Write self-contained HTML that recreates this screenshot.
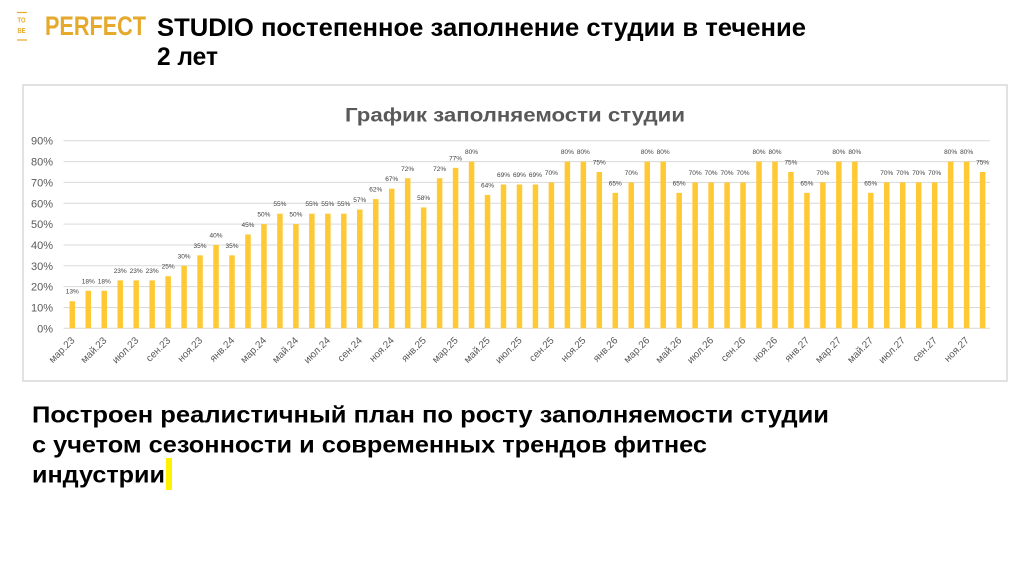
<!DOCTYPE html>
<html><head><meta charset="utf-8"><style>
html,body{margin:0;padding:0;background:#fff;width:1024px;height:574px;overflow:hidden}
svg{display:block}
text{font-family:"Liberation Sans",Arial,sans-serif}
</style></head><body>
<svg width="1024" height="574" viewBox="0 0 1024 574" xmlns="http://www.w3.org/2000/svg">
<rect x="0" y="0" width="1024" height="574" fill="#fff"/>
<!-- logo -->
<line x1="17" y1="12.5" x2="27" y2="12.5" stroke="#E5A92B" stroke-width="1.2"/>
<text x="17.5" y="22.5" font-size="7.5" font-weight="bold" fill="#E5A92B" textLength="8" lengthAdjust="spacingAndGlyphs">TO</text>
<text x="17.5" y="33" font-size="7.5" font-weight="bold" fill="#E5A92B" textLength="8" lengthAdjust="spacingAndGlyphs">BE</text>
<line x1="17" y1="40" x2="27" y2="40" stroke="#E5A92B" stroke-width="1.2"/>
<text x="45" y="35" font-size="27" font-weight="bold" fill="#E5A92B" textLength="101" lengthAdjust="spacingAndGlyphs">PERFECT</text>
<!-- heading -->
<text x="157" y="36" font-size="25" font-weight="bold" fill="#000" textLength="649" lengthAdjust="spacingAndGlyphs">STUDIO постепенное заполнение студии в течение</text>
<text x="157" y="65" font-size="25" font-weight="bold" fill="#000" textLength="61" lengthAdjust="spacingAndGlyphs">2 лет</text>
<!-- chart box -->
<rect x="23" y="85" width="984" height="296" fill="#fff" stroke="#d9d9d9" stroke-width="1.5"/>
<text x="345" y="121.5" font-size="19.5" font-weight="bold" fill="#595959" textLength="340" lengthAdjust="spacingAndGlyphs">График заполняемости студии</text>
<!-- gridlines -->
<g stroke="#d9d9d9" stroke-width="1">
<line x1="63.5" y1="328.3" x2="990" y2="328.3"/>
<line x1="63.5" y1="307.46" x2="990" y2="307.46"/>
<line x1="63.5" y1="286.62" x2="990" y2="286.62"/>
<line x1="63.5" y1="265.78" x2="990" y2="265.78"/>
<line x1="63.5" y1="244.94" x2="990" y2="244.94"/>
<line x1="63.5" y1="224.1" x2="990" y2="224.1"/>
<line x1="63.5" y1="203.26" x2="990" y2="203.26"/>
<line x1="63.5" y1="182.42" x2="990" y2="182.42"/>
<line x1="63.5" y1="161.58" x2="990" y2="161.58"/>
<line x1="63.5" y1="140.74" x2="990" y2="140.74"/>
</g>
<g font-size="11" fill="#595959" text-anchor="end">
<text x="53" y="332.3">0%</text>
<text x="53" y="311.5">10%</text>
<text x="53" y="290.6">20%</text>
<text x="53" y="269.8">30%</text>
<text x="53" y="248.9">40%</text>
<text x="53" y="228.1">50%</text>
<text x="53" y="207.3">60%</text>
<text x="53" y="186.4">70%</text>
<text x="53" y="165.6">80%</text>
<text x="53" y="144.7">90%</text>
</g>
<!-- bars -->
<g transform="translate(0,328.3) scale(1,-2.084)" fill="#FFC935">
<rect x="69.55" y="0" width="5.5" height="13"/>
<rect x="85.52" y="0" width="5.5" height="18"/>
<rect x="101.49" y="0" width="5.5" height="18"/>
<rect x="117.46" y="0" width="5.5" height="23"/>
<rect x="133.43" y="0" width="5.5" height="23"/>
<rect x="149.4" y="0" width="5.5" height="23"/>
<rect x="165.37" y="0" width="5.5" height="25"/>
<rect x="181.34" y="0" width="5.5" height="30"/>
<rect x="197.31" y="0" width="5.5" height="35"/>
<rect x="213.28" y="0" width="5.5" height="40"/>
<rect x="229.25" y="0" width="5.5" height="35"/>
<rect x="245.22" y="0" width="5.5" height="45"/>
<rect x="261.19" y="0" width="5.5" height="50"/>
<rect x="277.16" y="0" width="5.5" height="55"/>
<rect x="293.13" y="0" width="5.5" height="50"/>
<rect x="309.1" y="0" width="5.5" height="55"/>
<rect x="325.07" y="0" width="5.5" height="55"/>
<rect x="341.04" y="0" width="5.5" height="55"/>
<rect x="357.01" y="0" width="5.5" height="57"/>
<rect x="372.98" y="0" width="5.5" height="62"/>
<rect x="388.95" y="0" width="5.5" height="67"/>
<rect x="404.92" y="0" width="5.5" height="72"/>
<rect x="420.89" y="0" width="5.5" height="58"/>
<rect x="436.86" y="0" width="5.5" height="72"/>
<rect x="452.83" y="0" width="5.5" height="77"/>
<rect x="468.8" y="0" width="5.5" height="80"/>
<rect x="484.77" y="0" width="5.5" height="64"/>
<rect x="500.74" y="0" width="5.5" height="69"/>
<rect x="516.71" y="0" width="5.5" height="69"/>
<rect x="532.68" y="0" width="5.5" height="69"/>
<rect x="548.65" y="0" width="5.5" height="70"/>
<rect x="564.62" y="0" width="5.5" height="80"/>
<rect x="580.59" y="0" width="5.5" height="80"/>
<rect x="596.56" y="0" width="5.5" height="75"/>
<rect x="612.53" y="0" width="5.5" height="65"/>
<rect x="628.5" y="0" width="5.5" height="70"/>
<rect x="644.47" y="0" width="5.5" height="80"/>
<rect x="660.44" y="0" width="5.5" height="80"/>
<rect x="676.41" y="0" width="5.5" height="65"/>
<rect x="692.38" y="0" width="5.5" height="70"/>
<rect x="708.35" y="0" width="5.5" height="70"/>
<rect x="724.32" y="0" width="5.5" height="70"/>
<rect x="740.29" y="0" width="5.5" height="70"/>
<rect x="756.26" y="0" width="5.5" height="80"/>
<rect x="772.23" y="0" width="5.5" height="80"/>
<rect x="788.2" y="0" width="5.5" height="75"/>
<rect x="804.17" y="0" width="5.5" height="65"/>
<rect x="820.14" y="0" width="5.5" height="70"/>
<rect x="836.11" y="0" width="5.5" height="80"/>
<rect x="852.08" y="0" width="5.5" height="80"/>
<rect x="868.05" y="0" width="5.5" height="65"/>
<rect x="884.02" y="0" width="5.5" height="70"/>
<rect x="899.99" y="0" width="5.5" height="70"/>
<rect x="915.96" y="0" width="5.5" height="70"/>
<rect x="931.93" y="0" width="5.5" height="70"/>
<rect x="947.9" y="0" width="5.5" height="80"/>
<rect x="963.87" y="0" width="5.5" height="80"/>
<rect x="979.84" y="0" width="5.5" height="75"/>
</g>
<!-- bar labels -->
<g font-size="6.5" fill="#404040" text-anchor="middle">
<text x="72.3" y="293.7">13%</text>
<text x="88.27" y="283.3">18%</text>
<text x="104.24" y="283.3">18%</text>
<text x="120.21" y="272.9">23%</text>
<text x="136.18" y="272.9">23%</text>
<text x="152.15" y="272.9">23%</text>
<text x="168.12" y="268.7">25%</text>
<text x="184.09" y="258.3">30%</text>
<text x="200.06" y="247.9">35%</text>
<text x="216.03" y="237.4">40%</text>
<text x="232" y="247.9">35%</text>
<text x="247.97" y="227">45%</text>
<text x="263.94" y="216.6">50%</text>
<text x="279.91" y="206.2">55%</text>
<text x="295.88" y="216.6">50%</text>
<text x="311.85" y="206.2">55%</text>
<text x="327.82" y="206.2">55%</text>
<text x="343.79" y="206.2">55%</text>
<text x="359.76" y="202">57%</text>
<text x="375.73" y="191.6">62%</text>
<text x="391.7" y="181.2">67%</text>
<text x="407.67" y="170.8">72%</text>
<text x="423.64" y="199.9">58%</text>
<text x="439.61" y="170.8">72%</text>
<text x="455.58" y="160.3">77%</text>
<text x="471.55" y="154.1">80%</text>
<text x="487.52" y="187.4">64%</text>
<text x="503.49" y="177">69%</text>
<text x="519.46" y="177">69%</text>
<text x="535.43" y="177">69%</text>
<text x="551.4" y="174.9">70%</text>
<text x="567.37" y="154.1">80%</text>
<text x="583.34" y="154.1">80%</text>
<text x="599.31" y="164.5">75%</text>
<text x="615.28" y="185.3">65%</text>
<text x="631.25" y="174.9">70%</text>
<text x="647.22" y="154.1">80%</text>
<text x="663.19" y="154.1">80%</text>
<text x="679.16" y="185.3">65%</text>
<text x="695.13" y="174.9">70%</text>
<text x="711.1" y="174.9">70%</text>
<text x="727.07" y="174.9">70%</text>
<text x="743.04" y="174.9">70%</text>
<text x="759.01" y="154.1">80%</text>
<text x="774.98" y="154.1">80%</text>
<text x="790.95" y="164.5">75%</text>
<text x="806.92" y="185.3">65%</text>
<text x="822.89" y="174.9">70%</text>
<text x="838.86" y="154.1">80%</text>
<text x="854.83" y="154.1">80%</text>
<text x="870.8" y="185.3">65%</text>
<text x="886.77" y="174.9">70%</text>
<text x="902.74" y="174.9">70%</text>
<text x="918.71" y="174.9">70%</text>
<text x="934.68" y="174.9">70%</text>
<text x="950.65" y="154.1">80%</text>
<text x="966.62" y="154.1">80%</text>
<text x="982.59" y="164.5">75%</text>
</g>
<!-- x labels -->
<g font-size="10" fill="#595959" text-anchor="end">
<text transform="translate(75.3,341) rotate(-45)">мар.23</text>
<text transform="translate(107.24,341) rotate(-45)">май.23</text>
<text transform="translate(139.18,341) rotate(-45)">июл.23</text>
<text transform="translate(171.12,341) rotate(-45)">сен.23</text>
<text transform="translate(203.06,341) rotate(-45)">ноя.23</text>
<text transform="translate(235,341) rotate(-45)">янв.24</text>
<text transform="translate(266.94,341) rotate(-45)">мар.24</text>
<text transform="translate(298.88,341) rotate(-45)">май.24</text>
<text transform="translate(330.82,341) rotate(-45)">июл.24</text>
<text transform="translate(362.76,341) rotate(-45)">сен.24</text>
<text transform="translate(394.7,341) rotate(-45)">ноя.24</text>
<text transform="translate(426.64,341) rotate(-45)">янв.25</text>
<text transform="translate(458.58,341) rotate(-45)">мар.25</text>
<text transform="translate(490.52,341) rotate(-45)">май.25</text>
<text transform="translate(522.46,341) rotate(-45)">июл.25</text>
<text transform="translate(554.4,341) rotate(-45)">сен.25</text>
<text transform="translate(586.34,341) rotate(-45)">ноя.25</text>
<text transform="translate(618.28,341) rotate(-45)">янв.26</text>
<text transform="translate(650.22,341) rotate(-45)">мар.26</text>
<text transform="translate(682.16,341) rotate(-45)">май.26</text>
<text transform="translate(714.1,341) rotate(-45)">июл.26</text>
<text transform="translate(746.04,341) rotate(-45)">сен.26</text>
<text transform="translate(777.98,341) rotate(-45)">ноя.26</text>
<text transform="translate(809.92,341) rotate(-45)">янв.27</text>
<text transform="translate(841.86,341) rotate(-45)">мар.27</text>
<text transform="translate(873.8,341) rotate(-45)">май.27</text>
<text transform="translate(905.74,341) rotate(-45)">июл.27</text>
<text transform="translate(937.68,341) rotate(-45)">сен.27</text>
<text transform="translate(969.62,341) rotate(-45)">ноя.27</text>
</g>
<!-- body text -->
<rect x="166" y="458" width="6" height="32" fill="#FFF200"/>
<g font-size="23" font-weight="bold" fill="#000">
<text x="32" y="422.5" textLength="797" lengthAdjust="spacingAndGlyphs">Построен реалистичный план по росту заполняемости студии</text>
<text x="32" y="452.5" textLength="675" lengthAdjust="spacingAndGlyphs">с учетом сезонности и современных трендов фитнес</text>
<text x="32" y="482.5" textLength="133" lengthAdjust="spacingAndGlyphs">индустрии</text>
</g>
</svg>
</body></html>
